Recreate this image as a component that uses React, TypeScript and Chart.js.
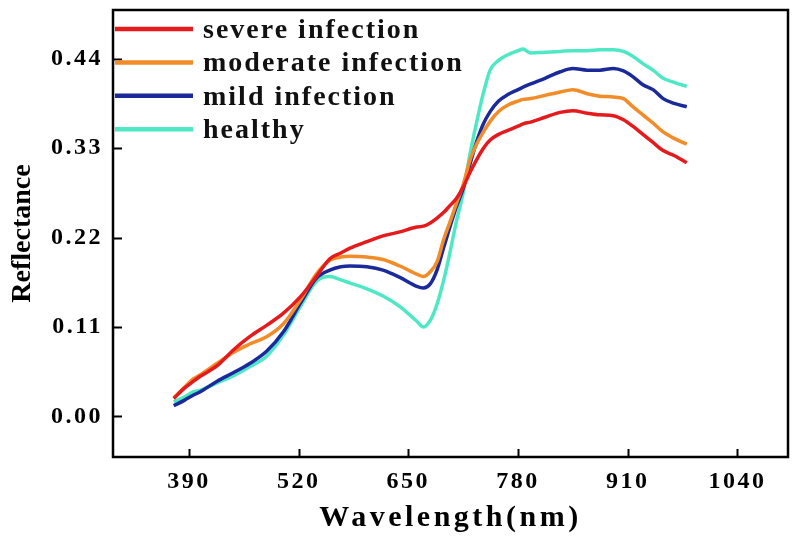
import React, { useEffect, useRef } from "react";
import { Chart, registerables } from "chart.js";

Chart.register(...registerables);

const WAVELENGTHS = [372, 385, 395, 403, 423, 443, 462, 482, 502, 522, 541, 557, 570, 581, 601, 620, 640, 660, 668, 676, 684, 692, 699, 707, 715, 723, 731, 739, 747, 757, 768, 780, 786, 795, 812, 830, 845, 862, 877, 893, 905, 916, 928, 940, 952, 965, 980];

const SEVERE = [0.022, 0.035, 0.043, 0.049, 0.062, 0.082, 0.098, 0.112, 0.127, 0.147, 0.172, 0.194, 0.201, 0.207, 0.215, 0.222, 0.227, 0.233, 0.234, 0.238, 0.244, 0.251, 0.259, 0.268, 0.282, 0.300, 0.316, 0.330, 0.340, 0.347, 0.352, 0.357, 0.360, 0.362, 0.368, 0.374, 0.376, 0.373, 0.371, 0.370, 0.365, 0.357, 0.347, 0.337, 0.327, 0.321, 0.312];

const MODERATE = [0.023, 0.036, 0.046, 0.051, 0.065, 0.079, 0.089, 0.098, 0.114, 0.143, 0.175, 0.192, 0.196, 0.197, 0.196, 0.193, 0.185, 0.175, 0.172, 0.178, 0.190, 0.218, 0.238, 0.262, 0.285, 0.315, 0.335, 0.350, 0.363, 0.375, 0.383, 0.388, 0.390, 0.391, 0.395, 0.399, 0.402, 0.397, 0.394, 0.393, 0.391, 0.381, 0.371, 0.361, 0.350, 0.342, 0.335];

const MILD = [0.013, 0.020, 0.026, 0.030, 0.043, 0.054, 0.065, 0.080, 0.104, 0.139, 0.170, 0.180, 0.184, 0.185, 0.184, 0.180, 0.171, 0.160, 0.158, 0.163, 0.180, 0.208, 0.232, 0.258, 0.280, 0.310, 0.338, 0.360, 0.375, 0.388, 0.396, 0.402, 0.405, 0.409, 0.416, 0.424, 0.428, 0.426, 0.426, 0.428, 0.425, 0.418, 0.408, 0.402, 0.391, 0.385, 0.381];

const HEALTHY = [0.018, 0.024, 0.030, 0.032, 0.041, 0.050, 0.061, 0.074, 0.100, 0.135, 0.166, 0.172, 0.168, 0.164, 0.157, 0.148, 0.135, 0.117, 0.110, 0.118, 0.138, 0.168, 0.200, 0.240, 0.275, 0.322, 0.362, 0.398, 0.426, 0.438, 0.445, 0.450, 0.452, 0.447, 0.448, 0.449, 0.450, 0.450, 0.451, 0.451, 0.449, 0.443, 0.434, 0.426, 0.416, 0.411, 0.406];

const SERIES_LABELS = ["severe infection", "moderate infection", "mild infection", "healthy"];
const SERIES_COLORS = ["#E41A1C", "#F28C28", "#1B2A9A", "#4FE8C4"];

const X_TICKS = [390, 520, 650, 780, 910, 1040];
const Y_TICKS = [0.0, 0.11, 0.22, 0.33, 0.44];

const FONT = "'Liberation Serif', 'Times New Roman', serif";

const spacingPlugin = {
  id: "spacing",
  beforeDraw(chart: any) {
    for (const s of Object.values(chart.scales) as any[]) {
      if (s._lsPatched) continue;
      s._lsPatched = true;
      const origLabels = s.drawLabels;
      const origTitle = s.drawTitle;
      const titleLs = s.axis === "x" ? "3.5px" : "0px";
      s.drawLabels = function (area: any) {
        const c = this.ctx;
        c.save();
        c.letterSpacing = "2.5px";
        origLabels.call(this, area);
        c.restore();
      };
      s.drawTitle = function () {
        const c = this.ctx;
        c.save();
        c.letterSpacing = titleLs;
        origTitle.call(this);
        c.restore();
      };
    }
  },
};

const framePlugin = {
  id: "frame",
  afterDraw(chart: any) {
    const { ctx, chartArea } = chart;
    const { left, right, top, bottom } = chartArea;
    ctx.save();
    ctx.strokeStyle = "#000";
    ctx.lineWidth = 2.5;
    ctx.strokeRect(left, top, right - left, bottom - top);
    ctx.lineWidth = 2;
    const xs = chart.scales.x;
    const ys = chart.scales.y;
    ctx.beginPath();
    for (const t of xs.ticks) {
      const px = Math.round(xs.getPixelForValue(t.value)) + 0.5;
      ctx.moveTo(px, bottom);
      ctx.lineTo(px, bottom - 8);
    }
    for (const t of ys.ticks) {
      const py = Math.round(ys.getPixelForValue(t.value)) + 0.5;
      ctx.moveTo(left, py);
      ctx.lineTo(left + 9, py);
    }
    ctx.stroke();

    // legend
    const x0 = left + 2;
    const lineLen = 78;
    let baseline = top + 28;
    ctx.font = `bold 28px ${FONT}`;
    (ctx as any).letterSpacing = "2px";
    ctx.textBaseline = "alphabetic";
    ctx.textAlign = "left";
    chart.data.datasets.forEach((ds: any) => {
      ctx.strokeStyle = ds.borderColor;
      ctx.lineWidth = 4.5;
      ctx.beginPath();
      ctx.moveTo(x0, baseline - 9);
      ctx.lineTo(x0 + lineLen, baseline - 9);
      ctx.stroke();
      ctx.fillStyle = "#111";
      ctx.fillText(ds.label, x0 + lineLen + 10, baseline);
      baseline += 33.4;
    });
    ctx.restore();
  },
};

export default function App() {
  const ref = useRef<HTMLCanvasElement | null>(null);
  useEffect(() => {
    if (!ref.current) return;
    const seriesValues = [SEVERE, MODERATE, MILD, HEALTHY];
    const chart = new Chart(ref.current, {
      type: "line",
      data: {
        datasets: seriesValues.map((vals, i) => ({
          label: SERIES_LABELS[i],
          data: WAVELENGTHS.map((w, j) => ({ x: w, y: vals[j] })),
          borderColor: SERIES_COLORS[i],
          backgroundColor: SERIES_COLORS[i],
          borderWidth: 3.5,
          pointRadius: 0,
          cubicInterpolationMode: "monotone" as const,
          fill: false,
        })),
      },
      options: {
        responsive: false,
        animation: false,
        layout: { padding: { top: 10, right: 10, left: 0, bottom: 0 } },
        plugins: { legend: { display: false }, tooltip: { enabled: false } },
        scales: {
          x: {
            type: "linear",
            min: 300,
            max: 1100,
            afterBuildTicks: (s: any) => {
              s.ticks = X_TICKS.map((v) => ({ value: v }));
            },
            afterFit: (s: any) => {
              s.height = 90;
              s.paddingLeft = 0;
              s.paddingRight = 0;
            },
            grid: { display: false, drawTicks: false },
            border: { display: false },
            ticks: {
              autoSkip: false,
              maxRotation: 0,
              padding: 10,
              color: "#000",
              font: { family: FONT, size: 24, weight: "bold" },
              callback: (v: any) => String(v),
            },
            title: {
              display: true,
              text: "Wavelength(nm)",
              color: "#000",
              font: { family: FONT, size: 30, weight: "bold" },
              padding: { top: 0, bottom: 11 },
            },
          },
          y: {
            type: "linear",
            min: -0.05,
            max: 0.5,
            afterBuildTicks: (s: any) => {
              s.ticks = Y_TICKS.map((v) => ({ value: v }));
            },
            afterFit: (s: any) => {
              s.width = 113;
              s.paddingTop = 0;
              s.paddingBottom = 0;
            },
            grid: { display: false, drawTicks: false },
            border: { display: false },
            ticks: {
              autoSkip: false,
              padding: 10,
              color: "#000",
              font: { family: FONT, size: 24, weight: "bold" },
              callback: (v: any) => Number(v).toFixed(2),
            },
            title: {
              display: true,
              text: "Reflectance",
              color: "#000",
              font: { family: FONT, size: 28, weight: "bold" },
              padding: { top: 6, bottom: 0 },
            },
          },
        },
      },
      plugins: [spacingPlugin, framePlugin],
    } as any);
    return () => chart.destroy();
  }, []);
  return (
    <div style={{ position: "fixed", left: 0, top: 0, width: 798, height: 547, background: "#fff" }}>
      <canvas ref={ref} width={798} height={547} style={{ display: "block" }} />
    </div>
  );
}
